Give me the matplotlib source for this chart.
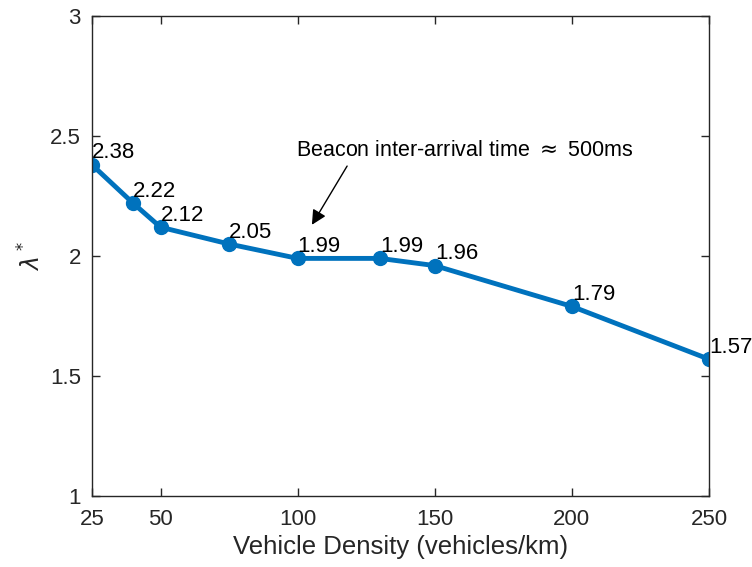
import matplotlib.pyplot as plt

# Data
density = [25, 40, 50, 75, 100, 130, 150, 200, 250]
lam_opt = [2.38, 2.22, 2.12, 2.05, 1.99, 1.99, 1.96, 1.79, 1.57]
point_labels = ['2.38', '2.22', '2.12', '2.05', '1.99', '1.99', '1.96', '1.79', '1.57']
xticks = [25, 50, 100, 150, 200, 250]
yticks = [1, 1.5, 2, 2.5, 3]

plt.rcParams['font.family'] = ['Liberation Sans', 'DejaVu Sans']
plt.rcParams['mathtext.fontset'] = 'dejavusans'

fig = plt.figure(figsize=(7.52, 5.67), dpi=100)
ax = fig.add_axes([0.1223, 0.1252, 0.8205, 0.8466])

blue = '#0072BD'
ax.plot(density, lam_opt, '-o', color=blue, linewidth=3.5, markersize=10)

for x, y, s in zip(density, lam_opt, point_labels):
    ax.annotate(s, (x, y), xytext=(0, 1), textcoords='offset points',
                ha='left', va='bottom', fontsize=16, color='black',
                annotation_clip=False)

ax.annotate('Beacon inter-arrival time $\\approx$ 500ms', xy=(105.2, 2.13),
            xytext=(99.5, 2.44), fontsize=15.5, ha='left', va='center',
            arrowprops=dict(arrowstyle='-|>', color='black', lw=1,
                            mutation_scale=22, shrinkA=2, shrinkB=0,
                            relpos=(0.16, 0.0)))

ax.set_xlim(25, 250)
ax.set_ylim(1, 3)
ax.set_xticks(xticks)
ax.set_yticks(yticks)
ax.set_yticklabels(['1', '1.5', '2', '2.5', '3'])

ax.tick_params(direction='in', top=True, right=True, length=6, width=1,
               colors='#262626', labelsize=16)
ax.tick_params(axis='x', pad=9)
ax.tick_params(axis='y', pad=8)
for sp in ax.spines.values():
    sp.set_color('#262626')
    sp.set_linewidth(1)

ax.set_xlabel('Vehicle Density (vehicles/km)', fontsize=18.5, color='#262626',
              labelpad=4)
ax.set_ylabel('$\\lambda^*$', fontsize=17, color='#262626', labelpad=3)

fig.savefig('out.png', dpi=100)
